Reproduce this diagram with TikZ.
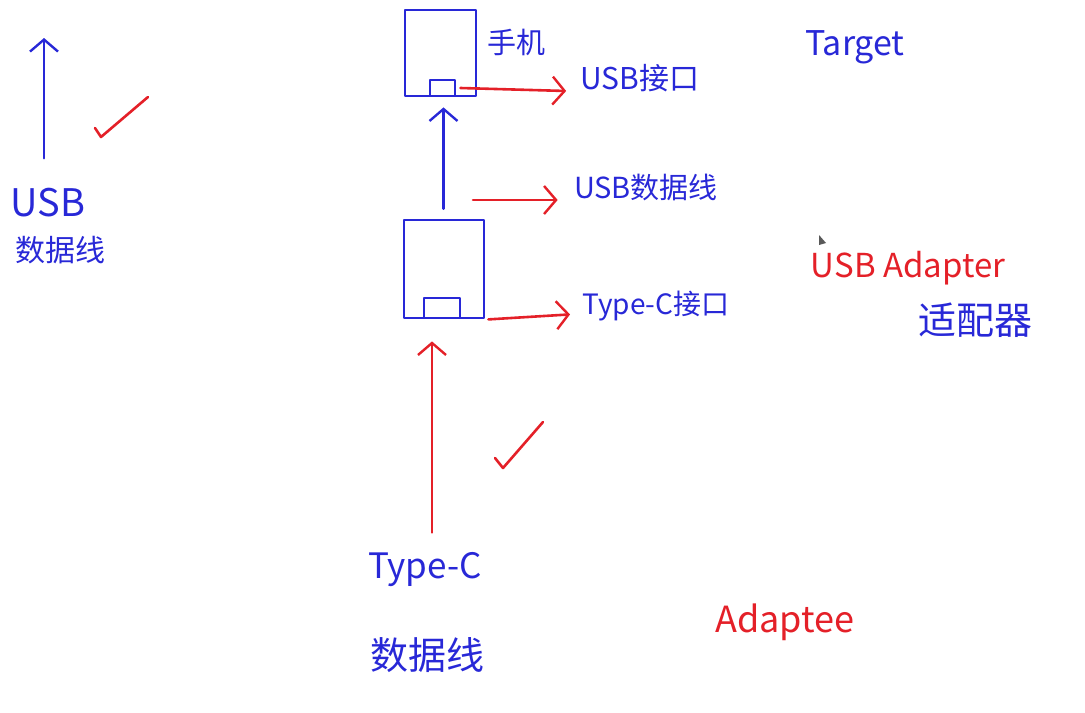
\documentclass[tikz,border=0pt]{standalone}
\usepackage{fontspec}
\setmainfont{Noto Sans CJK SC}
\usetikzlibrary{arrows.meta}
\definecolor{penblue}{RGB}{40,40,215}
\definecolor{penred}{RGB}{228,32,40}
\tikzset{
  bluepen/.style={draw=penblue,line width=1.4pt,line cap=round,line join=round},
  redpen/.style={draw=penred,line width=1.3pt,line cap=round,line join=round},
  barb/.style={-{Straight Barb[length=6pt,width=14pt,line width=1.2pt]}},
  boxnode/.style={bluepen,inner sep=0pt},
  bluetxt/.style={text=penblue,inner sep=0pt},
  redtxt/.style={text=penred,inner sep=0pt},
  fs/.style={font=\fontsize{#1}{#1}\selectfont}
}
\begin{document}
\begin{tikzpicture}[x=0.5pt,y=-0.5pt]
\useasboundingbox (0,0) rectangle (1085,712);
% left: USB cable
\node[bluetxt,fs=19pt] (usbl) at (48,203) {USB};
\node[bluetxt,fs=15pt] (datal) at (60,250) {数据线};
\coordinate (lefttop) at (44,38);
\draw[bluepen,barb] (usbl.north -| lefttop) ++(0,-30) coordinate (leftbot) -- (lefttop);
\draw[redpen] (95,128) -- (101,137) -- (148,97);
% phone
\node[boxnode,minimum width=35.5pt,minimum height=43pt] (phone) at (440.5,53) {};
\node[boxnode,minimum width=12.5pt,minimum height=8pt] (port1) at (442.5,88) {};
\node[bluetxt,fs=14.5pt] (phonelbl) at (516,42) {手机};
\node[bluetxt,fs=15pt] (usbport) at (640,78) {USB接口};
\node[bluetxt,fs=17pt] (target) at (855,47) {Target};
\draw[redpen,barb] ([xshift=2pt]port1.east) -- ([xshift=-7pt,yshift=-1.5pt]port1.east -| usbport.west);
% adapter
\node[boxnode,minimum width=40pt,minimum height=49pt] (adapter) at (444,269) {};
\node[boxnode,minimum width=18pt,minimum height=10pt] (port2) at (442,308) {};
\draw[bluepen,barb] (adapter.north -| phone.south) ++(3,-10) coordinate (cabletop) -- ([xshift=1.5pt,yshift=-5pt]phone.south);
\node[bluetxt,fs=14.5pt] (usbcable) at (646,187) {USB数据线};
\coordinate (usbfrom) at (473,200);
\draw[redpen,barb] (usbfrom) -- ([xshift=-8pt]usbfrom -| usbcable.west);
\node[bluetxt,fs=14pt] (typecport) at (656,306) {Type-C接口};
\draw[redpen,barb] (adapter.south east) ++(3,0) coordinate (tcfrom) -- ([xshift=-6pt,yshift=2.5pt]tcfrom -| typecport.west);
\node[redtxt,fs=16.5pt] (usbadapter) at (908,268) {USB Adapter};
\node[bluetxt,fs=19pt] (shipeiqi) at (975,320) {适配器};
% cursor
\fill[gray!70!black] (819,235) -- (819,245) -- (826,243) -- cycle;
% bottom: Type-C cable
\node[bluetxt,fs=17.5pt] (typec) at (425,570) {Type-C};
\node[bluetxt,fs=19pt] (datab) at (427,655) {数据线};
\draw[redpen,barb] (typec.north -| 432,0) ++(0,-20) -- ([yshift=-11pt]adapter.south -| 432,0);
\draw[redpen] (495,458) -- (503,468) -- (543,422);
\node[redtxt,fs=18pt] (adaptee) at (785,622) {Adaptee};
\end{tikzpicture}
\end{document}
